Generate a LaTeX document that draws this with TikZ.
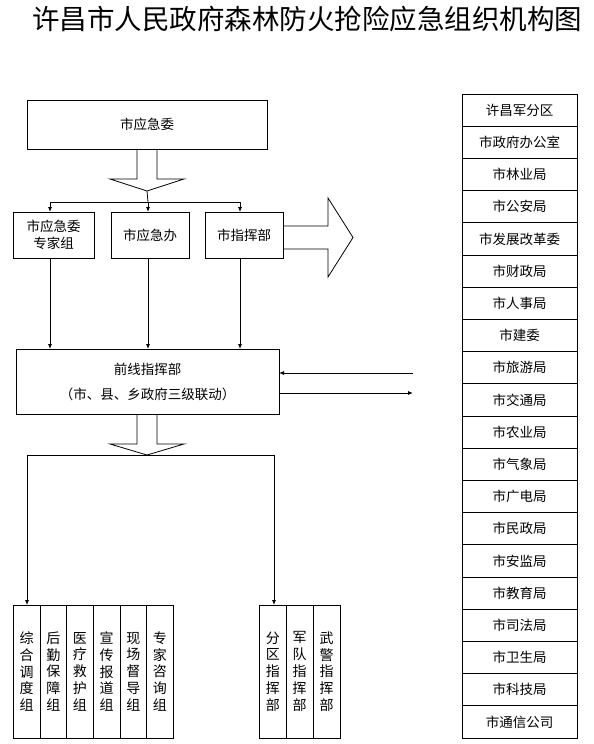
\documentclass[tikz,border=0pt]{standalone}
\usepackage{fontspec}
\setmainfont{Noto Sans CJK SC}
\usetikzlibrary{arrows.meta}
\begin{document}
\begin{tikzpicture}[x=1pt,y=-1pt,
  every node/.style={inner sep=0pt,outer sep=0pt},
  box/.style={draw,line width=0.8pt,rectangle,align=center,font=\fontsize{13.5}{17}\selectfont},
  rowbox/.style={box,minimum width=115pt,minimum height=32.2pt},
  colbox/.style={box,minimum height=133pt,font=\fontsize{14}{16.8}\selectfont},
  ln/.style={line width=0.8pt},
  arr/.style={ln,-{Latex[length=5pt,width=4pt]}}]
\useasboundingbox (0,0) rectangle (594,744);
\node[font=\fontsize{27.5}{32}\selectfont] (title) at (307,19) {许昌市人民政府森林防火抢险应急组织机构图};

% top committee
\node[box,minimum width=240pt,minimum height=49pt] (wei) at (147,124.5) {市应急委};
\draw[ln] (137,149) -- (137,179) -- (110,179) -- (147,191) -- (184,179) -- (157,179) -- (157,149);
\coordinate (tip1) at (147,191);

\node[box,minimum width=81pt,minimum height=46pt] (zj) at (53.5,235) {市应急委\\专家组};
\node[box,minimum width=78pt,minimum height=46pt] (ban) at (150,235) {市应急办};
\node[box,minimum width=78pt,minimum height=46pt] (zhb) at (244,235) {市指挥部};

\coordinate (h1) at (50,202);
\coordinate (h2) at (148,202);
\coordinate (h3) at (240,202);
\draw[ln] (h1) -- (h3);
\draw[ln] (tip1) -- (h2);
\draw[arr] (h1) -- (h1 |- zj.north);
\draw[arr] (h2) -- (h2 |- ban.north);
\draw[arr] (h3) -- (h3 |- zhb.north);

% big right hollow arrow
\draw[ln] (283,226) -- (328,226) -- (328,198) -- (353,237.5) -- (328,277) -- (328,249) -- (283,249);

% front command
\node[box,minimum width=263pt,minimum height=65pt,font=\fontsize{13.5}{25}\selectfont] (front) at (147.5,381.5) {前线指挥部\\（市、县、乡政府三级联动）};
\draw[arr] (50,258) -- (50,349);
\draw[arr] (148,258) -- (148,349);
\draw[arr] (240,258) -- (240,349);

\coordinate (inS) at (413,373);
\coordinate (outE) at (413,393);
\draw[arr] (inS) -- (inS -| front.east);
\draw[arr] (front.east |- outE) -- (outE);

% lower hollow arrow
\draw[ln] (137,414) -- (137,444) -- (110,444) -- (147,455) -- (184,444) -- (157,444) -- (157,414);
\coordinate (hl) at (27,455);
\coordinate (hr) at (274,455);
\draw[ln] (hl) -- (hr);

% left group
\foreach \i/\t in {0/{综\\合\\调\\度\\组},1/{后\\勤\\保\\障\\组},2/{医\\疗\\救\\护\\组},3/{宣\\传\\报\\道\\组},4/{现\\场\\督\\导\\组},5/{专\\家\\咨\\询\\组}}{
  \node[colbox,minimum width=26.67pt] (L\i) at ({13.3+26.67*\i+13.33},671.5) {\t};
}
% right group
\foreach \i/\t in {0/{分\\区\\指\\挥\\部},1/{军\\队\\指\\挥\\部},2/{武\\警\\指\\挥\\部}}{
  \node[colbox,minimum width=26.9pt] (R\i) at ({259.3+26.9*\i+13.45},671.5) {\t};
}
\draw[arr] (hl) -- (hl |- L0.north);
\draw[arr] (hr) -- (hr |- R0.north);

% right column
\foreach \i/\t in {0/许昌军分区,1/市政府办公室,2/市林业局,3/市公安局,4/市发展改革委,5/市财政局,6/市人事局,7/市建委,8/市旅游局,9/市交通局,10/市农业局,11/市气象局,12/市广电局,13/市民政局,14/市安监局,15/市教育局,16/市司法局,17/市卫生局,18/市科技局,19/市通信公司}{
  \node[rowbox] (C\i) at (519.5,{94+32.2*\i+16.1}) {\t};
}
\end{tikzpicture}
\end{document}
